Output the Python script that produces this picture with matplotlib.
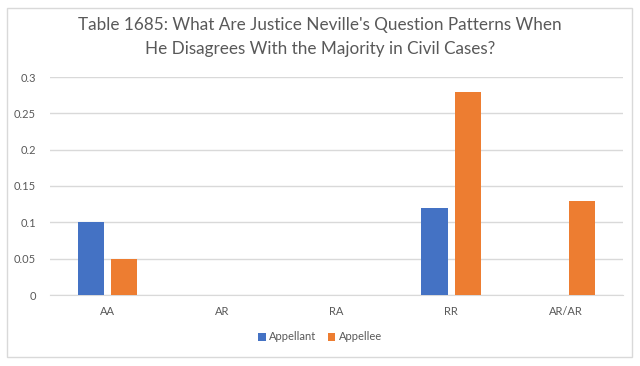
import numpy as np
import matplotlib
matplotlib.use('Agg')
import matplotlib.pyplot as plt
from matplotlib.patches import Rectangle

# Chart data
categories = ['AA', 'AR', 'RA', 'RR', 'AR/AR']
appellant = [0.10, 0.0, 0.0, 0.12, 0.0]
appellee = [0.05, 0.0, 0.0, 0.28, 0.13]
yticks = [0, 0.05, 0.1, 0.15, 0.2, 0.25, 0.3]
ytick_labels = ['0', '0.05', '0.1', '0.15', '0.2', '0.25', '0.3']

title = "Table 1685: What Are Justice Neville's Question Patterns When\nHe Disagrees With the Majority in Civil Cases?"

plt.rcParams['font.family'] = ['Lato', 'DejaVu Sans']

fig = plt.figure(figsize=(6.4, 3.66), dpi=100)
fig.patch.set_facecolor('white')

# light border round the chart area
fig.patches.append(Rectangle((7 / 640, 9 / 366), 625 / 640, 349 / 366, transform=fig.transFigure,
                             fill=False, edgecolor='#D9D9D9', linewidth=1))

ax = fig.add_axes([50 / 640, 1 - 295 / 366, 573 / 640, 218 / 366])

x = np.arange(len(categories))
w = 0.23
off = 0.145
ax.bar(x - off, appellant, width=w, color='#4472C4', label='Appellant', zorder=3)
ax.bar(x + off, appellee, width=w, color='#ED7D31', label='Appellee', zorder=3)

ax.set_xlim(-0.5, len(categories) - 0.5)
ax.set_ylim(0, 0.3)
ax.set_yticks(yticks)
ax.set_yticklabels(ytick_labels)
ax.set_xticks(x)
ax.set_xticklabels(categories)
ax.tick_params(axis='both', length=0, labelsize=8, colors='#595959')
ax.tick_params(axis='y', pad=10)
ax.tick_params(axis='x', pad=8)

ax.grid(axis='y', color='#D9D9D9', linewidth=1, zorder=0)
for s in ['top', 'right', 'left']:
    ax.spines[s].set_visible(False)
ax.spines['bottom'].set_color('#D9D9D9')

fig.text(0.5, 1 - 37 / 366, title, ha='center', va='center', fontsize=12.3,
         color='#595959', linespacing=1.55)

fig.legend(loc='center', bbox_to_anchor=(0.5, 1 - 337 / 366), ncol=2, frameon=False,
           fontsize=8, handlelength=0.7, handleheight=0.7, handletextpad=0.3,
           columnspacing=1.0, labelcolor='#595959')

fig.savefig('out.png', dpi=100)
